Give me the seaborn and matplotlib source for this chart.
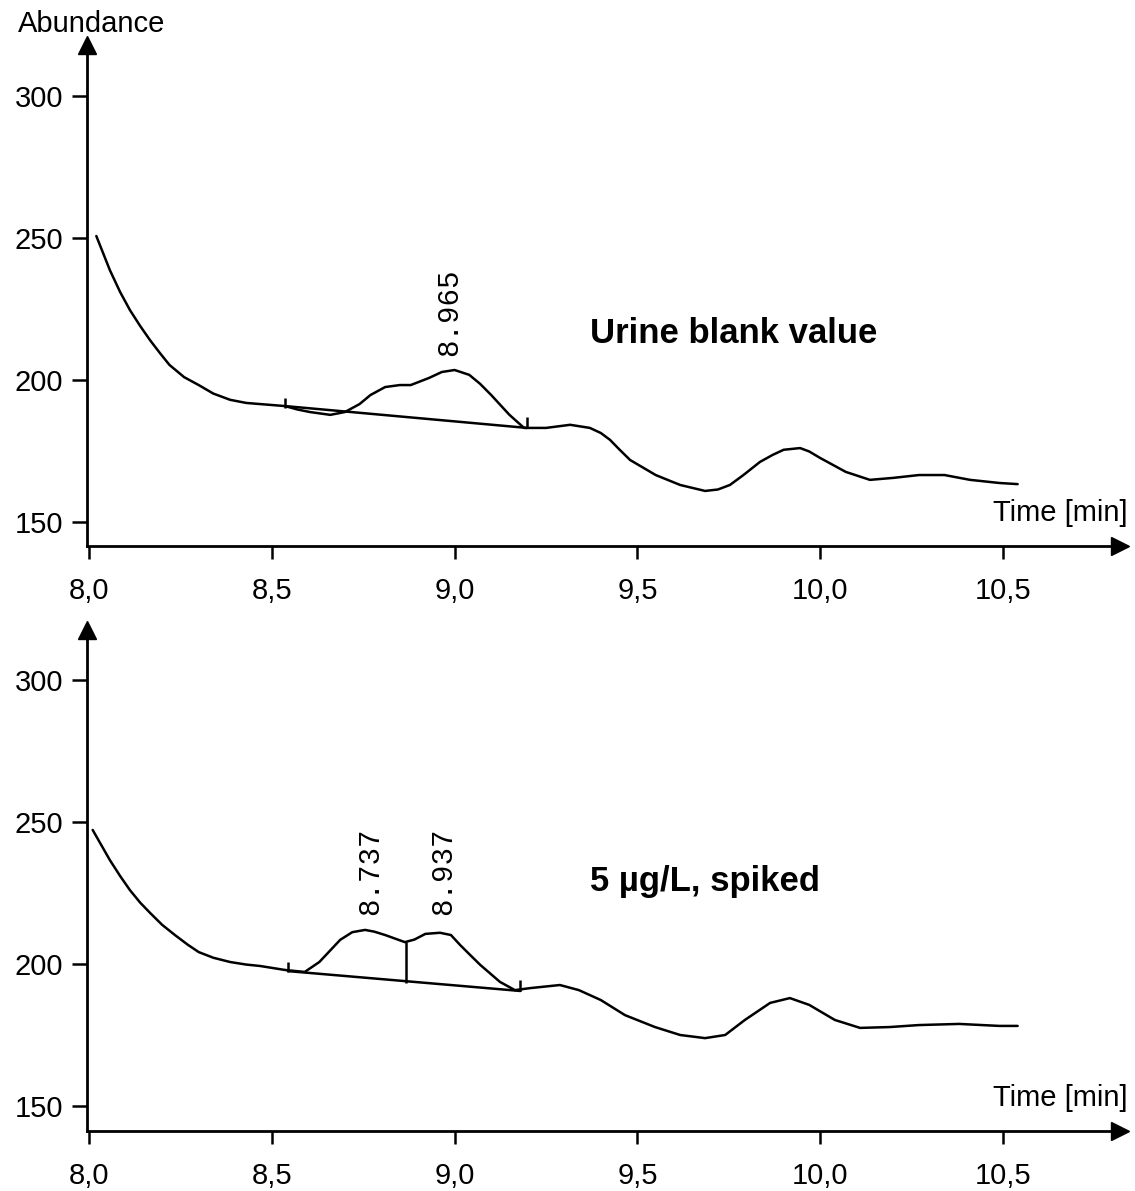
import matplotlib.pyplot as plt
import seaborn as sns

# --- data ---
top_time = [8.02, 8.057, 8.085, 8.112, 8.14, 8.167, 8.195, 8.22, 8.26, 8.30, 8.34, 8.386, 8.43,
            8.468, 8.536, 8.57, 8.604, 8.66, 8.70, 8.74, 8.77, 8.81, 8.85, 8.88, 8.93, 8.965,
            9.00, 9.04, 9.07, 9.10, 9.15, 9.19, 9.25, 9.316, 9.37, 9.40, 9.425, 9.45, 9.48,
            9.55, 9.617, 9.685, 9.72, 9.753, 9.79, 9.835, 9.87, 9.90, 9.945, 9.97, 10.0,
            10.07, 10.136, 10.2, 10.27, 10.34, 10.41, 10.49, 10.54]
top_abund = [250.7, 238.7, 231.0, 224.6, 219.0, 214.0, 209.3, 205.3, 201.0, 198.2, 195.2, 193.0,
             191.9, 191.5, 190.8, 189.6, 188.7, 187.7, 188.7, 191.5, 194.7, 197.5, 198.2, 198.2,
             200.7, 202.8, 203.5, 201.8, 198.6, 194.7, 187.7, 183.1, 183.1, 184.2, 183.1, 181.3,
             178.9, 175.6, 171.8, 166.5, 163.0, 160.9, 161.4, 163.0, 166.5, 171.1, 173.6, 175.4,
             176.0, 174.8, 172.5, 167.6, 164.8, 165.5, 166.5, 166.5, 164.8, 163.7, 163.3]

bot_time = [8.01, 8.057, 8.085, 8.112, 8.14, 8.167, 8.20, 8.235, 8.27, 8.30, 8.34, 8.386, 8.43,
            8.468, 8.536, 8.59, 8.63, 8.66, 8.687, 8.72, 8.755, 8.78, 8.81, 8.864, 8.89, 8.92,
            8.96, 8.99, 9.015, 9.04, 9.07, 9.124, 9.165, 9.206, 9.288, 9.34, 9.40, 9.466, 9.548,
            9.617, 9.685, 9.74, 9.794, 9.863, 9.917, 9.97, 10.04, 10.109, 10.19, 10.27, 10.38,
            10.49, 10.54]
bot_abund = [247.2, 236.6, 231.0, 226.0, 221.6, 218.0, 213.8, 210.2, 206.8, 204.2, 202.2, 200.7,
             199.8, 199.3, 197.9, 197.2, 200.7, 204.8, 208.5, 211.2, 212.0, 211.4, 210.2, 207.7,
             208.6, 210.6, 211.0, 210.2, 206.7, 203.5, 199.7, 193.7, 190.8, 191.5, 192.6, 190.8,
             187.3, 182.0, 177.8, 175.0, 173.9, 175.0, 180.3, 186.3, 188.0, 185.6, 180.3, 177.5,
             177.8, 178.5, 178.9, 178.2, 178.2]

# integration baselines, start/end marks and split line
top_base_time = [8.536, 9.198]
top_base_abund = [190.8, 183.1]
top_marks_time = [8.536, 9.198]
top_marks_low = [190.1, 183.1]
top_marks_high = [193.7, 187.0]

bot_base_time = [8.544, 9.18]
bot_base_abund = [197.5, 190.5]
bot_marks_time = [8.544, 9.18, 8.867]
bot_marks_low = [197.2, 190.5, 193.3]
bot_marks_high = [200.7, 194.4, 207.7]

# peak labels
top_peaks = ["8.965"]
top_peak_x = [8.985]
bot_peaks = ["8.737", "8.937"]
bot_peak_x = [8.769, 8.968]

xticks = [8.0, 8.5, 9.0, 9.5, 10.0, 10.5]
xtick_labels = ["8,0", "8,5", "9,0", "9,5", "10,0", "10,5"]
yticks = [150, 200, 250, 300]

sns.set_style("white")
plt.rcParams['font.family'] = ['Liberation Sans', 'DejaVu Sans']
plt.rcParams['text.color'] = 'black'

fig = plt.figure(figsize=(11.35, 11.91), dpi=100)
W, H = 1135, 1191


def panel(top_px, axis_px, y_lo, y_hi, t, a, bt, ba, mt, ml, mh, peaks, peak_x, peak_y, title, title_y):
    ax = fig.add_axes([87 / W, (H - axis_px) / H, (1120 - 87) / W, (axis_px - top_px) / H])
    sns.lineplot(x=t, y=a, ax=ax, color="black", linewidth=1.8, sort=False)
    sns.lineplot(x=bt, y=ba, ax=ax, color="black", linewidth=1.8, sort=False)
    ax.vlines(mt, ml, mh, color="black", linewidth=1.8)
    ax.set_xlim(7.9945, 10.82)
    ax.set_ylim(y_lo, y_hi)
    for s in ["top", "right"]:
        ax.spines[s].set_visible(False)
    for s in ["left", "bottom"]:
        ax.spines[s].set_linewidth(2)
        ax.spines[s].set_color("black")
    ax.plot(0, 1, marker="^", markersize=13, color="black", transform=ax.transAxes, clip_on=False)
    ax.plot(1, 0, marker=">", markersize=13, color="black", transform=ax.transAxes, clip_on=False)
    ax.set_xticks(xticks)
    ax.set_xticklabels(xtick_labels)
    ax.set_yticks(yticks)
    ax.tick_params(axis="x", direction="out", length=9, width=1.8, pad=13, labelsize=21,
                   bottom=True, colors="black")
    ax.tick_params(axis="y", direction="out", length=11, width=1.8, pad=6, labelsize=21,
                   left=True, colors="black")
    ax.set_xlabel("")
    ax.set_ylabel("")
    for lab, px in zip(peaks, peak_x):
        ax.text(px, peak_y, lab, rotation=90, ha="center", va="bottom",
                fontsize=21, family="Liberation Mono")
    ax.text(9.37, title_y, title, fontsize=25, fontweight="bold", va="center", ha="left")
    ax.text(10.84, y_lo + 11.5, "Time [min]", fontsize=21, ha="right", va="center")
    return ax


panel(45, 546, 141.5, 318.0, top_time, top_abund, top_base_time, top_base_abund,
      top_marks_time, top_marks_low, top_marks_high, top_peaks, top_peak_x, 208.5,
      "Urine blank value", 216.5)
panel(630, 1131, 141.2, 317.6, bot_time, bot_abund, bot_base_time, bot_base_abund,
      bot_marks_time, bot_marks_low, bot_marks_high, bot_peaks, bot_peak_x, 217.3,
      "5 µg/L, spiked", 229.0)

fig.text(18 / W, 1 - 24 / H, "Abundance", fontsize=21, ha="left", va="center")

fig.savefig("out.png", dpi=100, facecolor="white")
